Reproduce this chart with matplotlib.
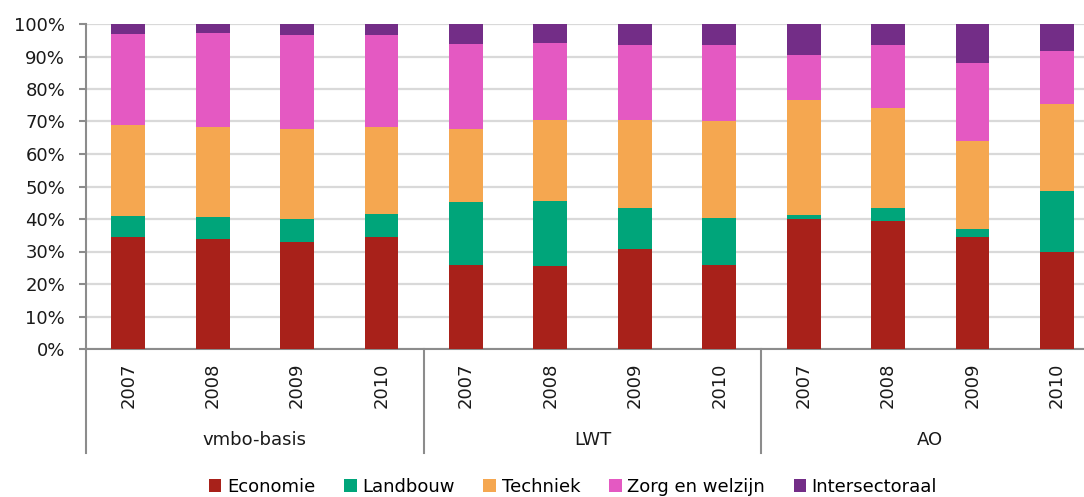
import numpy as np
import matplotlib
matplotlib.use("Agg")
import matplotlib.pyplot as plt
from matplotlib.ticker import PercentFormatter
import matplotlib.transforms as mtransforms

# categorieën
groups = ["vmbo-basis", "LWT", "AO"]
years = ["2007", "2008", "2009", "2010"]
sectors = ["Economie", "Landbouw", "Techniek", "Zorg en welzijn", "Intersectoraal"]
sector_colors = ["#A8211A", "#00A57A", "#F5A750", "#E459C2", "#732D87"]

# aandelen per sector (%), volgorde: vmbo-basis 2007-2010, LWT 2007-2010, AO 2007-2010
economie = [34.4, 33.7, 32.9, 34.4, 25.8, 25.5, 30.7, 25.9, 40.0, 39.3, 34.4, 29.8]
landbouw = [6.5, 6.8, 7.1, 7.0, 19.4, 19.9, 12.7, 14.4, 1.3, 4.1, 2.5, 18.9]
techniek = [27.9, 27.8, 27.6, 26.9, 22.5, 25.0, 27.1, 29.8, 35.3, 30.7, 27.0, 26.6]
zorg = [28.1, 28.9, 29.1, 28.3, 26.3, 23.8, 23.0, 23.3, 13.9, 19.4, 24.2, 16.4]
intersectoraal = [3.1, 2.8, 3.3, 3.4, 6.0, 5.8, 6.5, 6.6, 9.5, 6.5, 11.9, 8.3]

series = [economie, landbouw, techniek, zorg, intersectoraal]
x = np.arange(len(economie))
tick_labels = years * len(groups)

fig = plt.figure(figsize=(10.84, 4.97), dpi=100)
ax = fig.add_axes([86 / 1084, 1 - 349 / 497, 1 - 86 / 1084, 325 / 497])

bottom = np.zeros(len(x))
for name, vals, col in zip(sectors, series, sector_colors):
    v = np.array(vals) / 100.0
    ax.bar(x, v, width=0.40, bottom=bottom, color=col, label=name,
           edgecolor="none", zorder=3)
    bottom += v

ax.set_ylim(0, 1)
ax.set_xlim(-0.5, 11.32)
ax.set_yticks(np.arange(0, 1.01, 0.1))
ax.yaxis.set_major_formatter(PercentFormatter(1.0, decimals=0))
ax.grid(axis="y", color="#D9D9D9", lw=1.6, zorder=0)
ax.set_axisbelow(True)

for s in ["top", "right"]:
    ax.spines[s].set_visible(False)
for s in ["left", "bottom"]:
    ax.spines[s].set_color("#8C8C8C")
    ax.spines[s].set_linewidth(1.5)

ax.tick_params(axis="y", length=5, width=1.5, color="#8C8C8C", pad=10,
               labelsize=13, labelcolor="#1a1a1a")
ax.set_xticks(x)
ax.set_xticklabels(tick_labels, rotation=90, fontsize=13, color="#1a1a1a")
ax.tick_params(axis="x", length=0, pad=10)

# groepslabels en scheidingslijnen
trans = mtransforms.blended_transform_factory(ax.transData, ax.transAxes)
for i, g in enumerate(groups):
    ax.text(i * 4 + 1.5, -0.28, g, transform=trans, ha="center", va="center",
            fontsize=13, color="#1a1a1a")
for xs in [-0.5, 3.5, 7.5]:
    ax.plot([xs, xs], [0, -0.32], transform=trans, color="#8C8C8C", lw=1.5,
            clip_on=False)

leg = fig.legend(loc="center", bbox_to_anchor=(573 / 1084, 1 - 487 / 497),
                 ncol=5, frameon=False, fontsize=13, handlelength=0.7,
                 handleheight=0.7, handletextpad=0.3, columnspacing=1.6)

fig.savefig("out.png", dpi=100)
